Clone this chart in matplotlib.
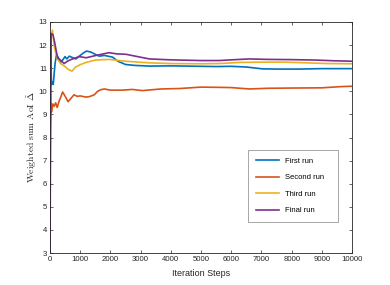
import matplotlib
matplotlib.use("Agg")
import matplotlib.pyplot as plt

# Data (iteration, value)
first_x = [1, 20, 50, 80, 110, 170, 220, 280, 350, 420, 500, 560, 640, 760, 860, 1000, 1100, 1210, 1350, 1500, 1630, 1800, 2070, 2250, 2500, 2800, 3300, 4000, 4980, 5500, 6000, 6500, 7030, 7600, 8200, 9000, 10000]
first_y = [3.3, 12.45, 10.28, 10.4, 10.3, 11.2, 11.6, 11.45, 11.25, 11.35, 11.5, 11.4, 11.52, 11.45, 11.4, 11.55, 11.65, 11.74, 11.7, 11.6, 11.52, 11.55, 11.48, 11.3, 11.16, 11.12, 11.09, 11.1, 11.08, 11.07, 11.08, 11.05, 10.97, 10.96, 10.96, 10.98, 10.98]

second_x = [1, 30, 50, 70, 100, 140, 190, 240, 310, 360, 420, 520, 600, 700, 800, 900, 1000, 1190, 1310, 1470, 1580, 1690, 1800, 2000, 2400, 2730, 3060, 3670, 4300, 4980, 5600, 6000, 6600, 7200, 8000, 9000, 9600, 10000]
second_y = [8.0, 9.5, 9.1, 9.25, 9.45, 9.35, 9.5, 9.3, 9.6, 9.75, 9.97, 9.75, 9.55, 9.7, 9.85, 9.78, 9.8, 9.75, 9.77, 9.85, 10.0, 10.07, 10.1, 10.05, 10.05, 10.08, 10.03, 10.1, 10.12, 10.18, 10.17, 10.16, 10.1, 10.13, 10.14, 10.15, 10.2, 10.22]

third_x = [1, 30, 85, 150, 250, 350, 470, 600, 730, 850, 1000, 1200, 1500, 1960, 2510, 3290, 4000, 4980, 5600, 6300, 7000, 7800, 8500, 9200, 10000]
third_y = [10.5, 12.3, 12.65, 11.9, 11.4, 11.2, 11.1, 10.95, 10.87, 11.05, 11.15, 11.25, 11.35, 11.38, 11.3, 11.23, 11.2, 11.19, 11.2, 11.25, 11.26, 11.26, 11.23, 11.2, 11.19]

final_x = [1, 40, 100, 160, 250, 350, 470, 580, 690, 970, 1200, 1520, 1960, 2200, 2520, 2900, 3290, 4000, 4980, 5600, 6000, 6600, 7200, 8000, 8800, 9400, 10000]
final_y = [3.0, 12.5, 12.45, 12.1, 11.45, 11.35, 11.2, 11.3, 11.37, 11.5, 11.45, 11.55, 11.67, 11.62, 11.6, 11.5, 11.4, 11.36, 11.33, 11.33, 11.36, 11.4, 11.38, 11.37, 11.35, 11.32, 11.3]

labels = ["First run", "Second run", "Third run", "Final run"]
colors = ["#0072BD", "#D95319", "#EDB120", "#7E2F8E"]

plt.rcParams["mathtext.fontset"] = "cm"
plt.rcParams["font.family"] = ["Liberation Sans", "DejaVu Sans"]

fig = plt.figure(figsize=(3.9, 2.85), dpi=100)
ax = fig.add_axes([0.128, 0.112, 0.775, 0.811])

series = [(first_x, first_y), (second_x, second_y), (third_x, third_y), (final_x, final_y)]
for (xs, ys), lab, c in zip(series, labels, colors):
    ax.plot(xs, ys, color=c, lw=1.2, label=lab)

ax.set_xlim(0, 10000)
ax.set_ylim(3, 13)
ax.set_xticks(range(0, 10001, 1000))
ax.set_yticks(range(3, 14))
ax.tick_params(direction="in", length=2.5, width=0.5, labelsize=5.6, colors="#262626",
               top=True, right=True, pad=2)
for s in ax.spines.values():
    s.set_linewidth(0.6)
    s.set_color("#262626")

ax.set_xlabel("Iteration Steps", fontsize=6.5, color="#262626")
ax.xaxis.set_label_coords(0.5, -0.07)
ax.set_ylabel(r"$\mathrm{Weighted\ sum\ AoI}\ \tilde{\Delta}$", fontsize=7.0, color="#262626")
ax.yaxis.set_label_coords(-0.035, 0.5)

leg = ax.legend(loc="lower left", bbox_to_anchor=(0.656, 0.134, 0.298, 0.303), mode="expand",
                fontsize=5.5, labelspacing=1.2, handlelength=3.0, handletextpad=0.8,
                borderaxespad=0, fancybox=False, framealpha=1, edgecolor="#999999",
                borderpad=1.0)
leg.get_frame().set_linewidth(0.6)

fig.savefig("out.png", dpi=100)
